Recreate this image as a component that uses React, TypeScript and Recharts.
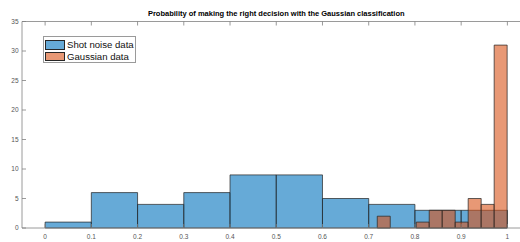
import { ComposedChart, XAxis, YAxis, ReferenceArea, Legend, Label } from 'recharts';

// histogram bins
const shotEdges = [0, 0.1, 0.2, 0.3, 0.4, 0.5, 0.6, 0.7, 0.8, 0.9, 1.0];
const shotCounts = [1, 6, 4, 6, 9, 9, 5, 4, 3, 3];

const gaussEdges = [0.7185, 0.7466, 0.7747, 0.8028, 0.8309, 0.859, 0.8871, 0.9152, 0.9433, 0.9714, 0.9995];
const gaussCounts = [2, 0, 0, 1, 3, 3, 1, 5, 4, 31];

const xTicks = [0, 0.1, 0.2, 0.3, 0.4, 0.5, 0.6, 0.7, 0.8, 0.9, 1];
const yTicks = [0, 5, 10, 15, 20, 25, 30, 35];

const TITLE = 'Probability of making the right decision with the Gaussian classification';
const SERIES = ['Shot noise data', 'Gaussian data'];

const BLUE = '#0072BD';
const ORANGE = '#D95319';
const EDGE = '#262626';
const AXIS = '#808080';
const TXT = '#555';
const FONT = '"Liberation Sans", Arial, sans-serif';

// one row per bin edge so the x axis has data behind it
const rows = [...shotEdges, ...gaussEdges].map((x) => ({ x }));

const BottomTick = (props: any) => {
    const { x, y, payload } = props;
    return (
        <g>
            <line x1={x} y1={y} x2={x} y2={y - 4} stroke={AXIS} strokeWidth={0.8} />
            <text x={x} y={y + 11} textAnchor="middle" fontSize={6.5} fill={TXT} fontFamily={FONT}>
                {String(payload.value)}
            </text>
        </g>
    );
};

const TopTick = (props: any) => {
    const { x, y } = props;
    return <line x1={x} y1={y} x2={x} y2={y + 4} stroke={AXIS} strokeWidth={0.8} />;
};

const LeftTick = (props: any) => {
    const { x, y, payload } = props;
    return (
        <g>
            <line x1={x} y1={y} x2={x + 4} y2={y} stroke={AXIS} strokeWidth={0.8} />
            <text x={x - 3.5} y={y + 2.3} textAnchor="end" fontSize={6.5} fill={TXT} fontFamily={FONT}>
                {String(payload.value)}
            </text>
        </g>
    );
};

const LegendBox = () => (
    <div
        style={{
            width: 93,
            height: 27,
            boxSizing: 'border-box',
            border: '1px solid #9a9a9a',
            background: '#fff',
            padding: '2px 0 0 1px',
            fontFamily: FONT,
            fontSize: 9.6,
            color: '#111',
            whiteSpace: 'nowrap',
        }}
    >
        {SERIES.map((name, i) => (
            <div key={name} style={{ display: 'flex', alignItems: 'center', height: 11.5 }}>
                <span
                    style={{
                        display: 'inline-block',
                        flex: 'none',
                        width: 20,
                        height: 9.5,
                        boxSizing: 'border-box',
                        border: `1px solid ${EDGE}`,
                        background: i === 0 ? '#66AAD7' : '#E89875',
                        marginRight: 2,
                    }}
                />
                <span style={{ lineHeight: '11px' }}>{name}</span>
            </div>
        ))}
    </div>
);

export default function App() {
    return (
        <div style={{ position: 'absolute', left: 0, top: 0, width: 520, height: 242, overflow: 'hidden', background: '#fff' }}>
            <ComposedChart width={560} height={242} data={rows} margin={{ top: 20.5, right: 29.5, bottom: 0, left: 0 }}>
                <XAxis
                    xAxisId={0}
                    dataKey="x"
                    type="number"
                    domain={[-0.05, 1.05]}
                    allowDataOverflow
                    ticks={xTicks}
                    interval={0}
                    height={14}
                    tickSize={0}
                    tickMargin={0}
                    tickLine={false}
                    tick={<BottomTick />}
                    axisLine={{ stroke: AXIS, strokeWidth: 0.8 }}
                />
                <XAxis
                    xAxisId="top"
                    dataKey="x"
                    orientation="top"
                    type="number"
                    domain={[-0.05, 1.05]}
                    allowDataOverflow
                    ticks={xTicks}
                    interval={0}
                    height={1}
                    tickSize={0}
                    tickMargin={0}
                    tickLine={false}
                    tick={<TopTick />}
                    axisLine={{ stroke: AXIS, strokeWidth: 0.8 }}
                >
                    <Label value={TITLE} position="top" offset={4.5} fontSize={7.5} fontWeight="bold" fill="#000" fontFamily={FONT} />
                </XAxis>
                <YAxis
                    type="number"
                    domain={[0, 35]}
                    allowDataOverflow
                    ticks={yTicks}
                    interval={0}
                    width={22}
                    tickSize={0}
                    tickMargin={0}
                    tickLine={false}
                    tick={<LeftTick />}
                    axisLine={{ stroke: AXIS, strokeWidth: 0.8 }}
                />
                {shotCounts.map((c, i) => (
                    <ReferenceArea
                        key={`shot-${i}`}
                        x1={shotEdges[i]}
                        x2={shotEdges[i + 1]}
                        y1={0}
                        y2={c}
                        fill={BLUE}
                        fillOpacity={0.6}
                        stroke={EDGE}
                        strokeOpacity={0.9}
                        strokeWidth={0.8}
                    />
                ))}
                {gaussCounts.map((c, i) =>
                    c > 0 ? (
                        <ReferenceArea
                            key={`gauss-${i}`}
                            x1={gaussEdges[i]}
                            x2={gaussEdges[i + 1]}
                            y1={0}
                            y2={c}
                            fill={ORANGE}
                            fillOpacity={0.6}
                            stroke={EDGE}
                            strokeOpacity={0.9}
                            strokeWidth={0.8}
                        />
                    ) : null
                )}
                <Legend
                    layout="vertical"
                    align="center"
                    verticalAlign="middle"
                    content={<LegendBox />}
                    wrapperStyle={{ left: 43, top: 36, width: 93, height: 27 }}
                />
            </ComposedChart>
        </div>
    );
}
